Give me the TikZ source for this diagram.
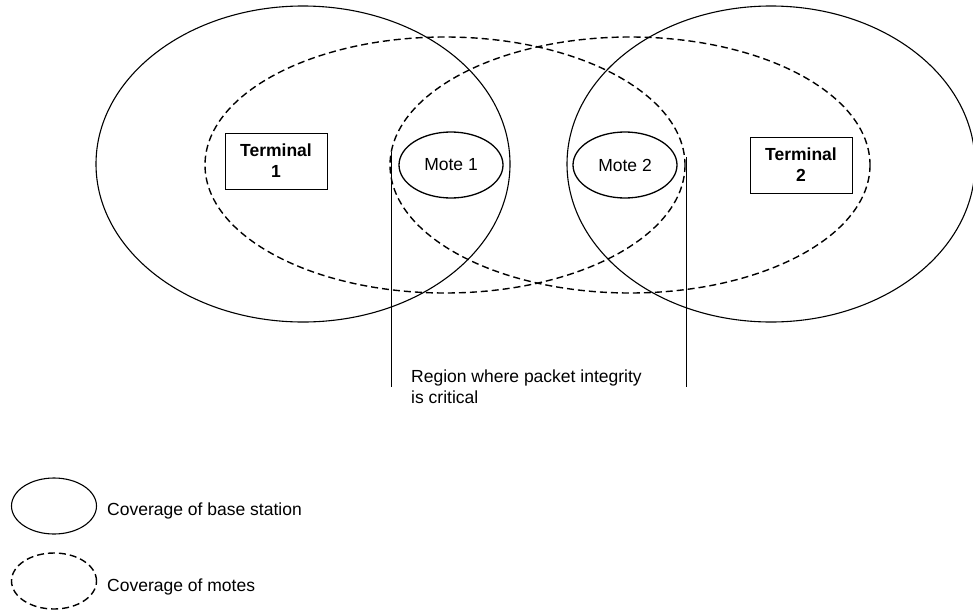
\documentclass[tikz,border=0pt]{standalone}
\usepackage{fontspec}
\setmainfont{Liberation Sans}
\usetikzlibrary{shapes.geometric,positioning}

\begin{document}
\begin{tikzpicture}[x=1pt,y=-1pt,
    cover/.style={line width=1.1pt},
    motecover/.style={line width=1.4pt, dash pattern=on 7pt off 4pt},
    mote/.style={draw, ellipse, line width=1.3pt, minimum width=104pt, minimum height=66pt, inner sep=0pt, font=\fontsize{17.5}{21}\selectfont},
    terminal/.style={draw, rectangle, line width=0.9pt, minimum width=102pt, minimum height=56pt, inner sep=0pt, align=center, font=\bfseries\fontsize{17.5}{21}\selectfont},
    keyshape/.style={draw, ellipse, line width=1.1pt, minimum width=85pt, minimum height=56pt, inner sep=0pt},
    lbl/.style={align=left, inner sep=0pt, font=\fontsize{17.5}{21}\selectfont}]
    \useasboundingbox (0,0) rectangle (973,613);
    \draw[cover] (303,164) ellipse [x radius=207, y radius=158];
    \draw[cover] (771,164) ellipse [x radius=204, y radius=158];
    \draw[motecover] (445,165) ellipse [x radius=240, y radius=128];
    \draw[motecover] (630,165) ellipse [x radius=240, y radius=128];
    \node[terminal] (term1) at (276,161) {Terminal\\1};
    \node[terminal] (term2) at (801,165) {Terminal\\2};
    \node[mote] (mote1) at (451,165) {Mote 1};
    \node[mote] (mote2) at (625,165) {Mote 2};
    \coordinate (edge1) at (391,152);
    \coordinate (edge2) at (686,157);
    \coordinate (foot1) at (391,387);
    \coordinate (foot2) at (686,387);
    \draw[line width=0.8pt] (edge1) -- (foot1);
    \draw[line width=0.8pt] (edge2) -- (foot2);
    \node[lbl, anchor=north west] (region) at (411,370) {Region where packet integrity\\is critical};
    \node[keyshape] (keybase) at (54,506) {};
    \node[keyshape, motecover] (keymote) at (54,581) {};
    \node[lbl, anchor=west] (basetext) at (107,511) {Coverage of base station};
    \node[lbl, anchor=west] (motetext) at (107,587) {Coverage of motes};
\end{tikzpicture}
\end{document}
